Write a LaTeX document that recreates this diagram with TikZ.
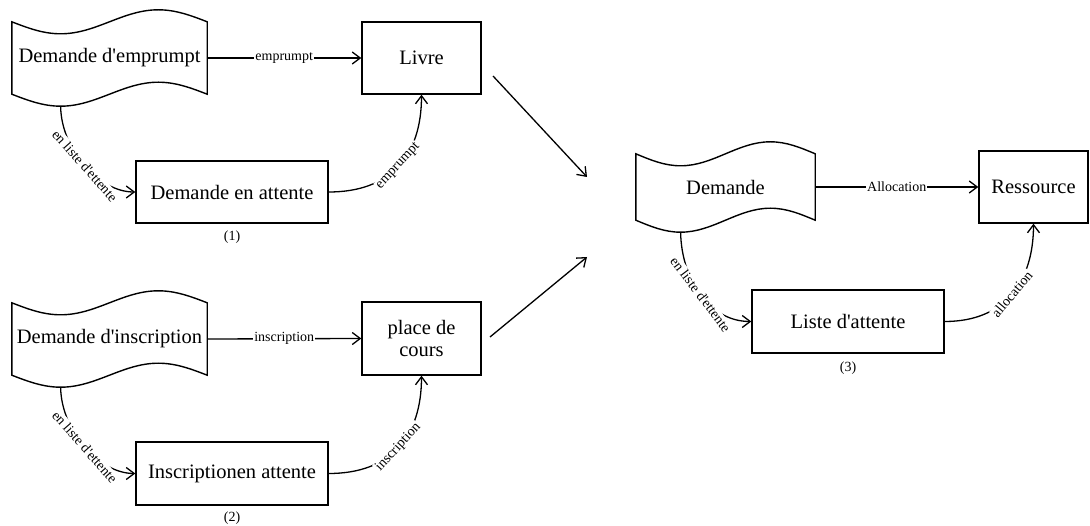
\documentclass[tikz,border=0pt]{standalone}
\usepackage{fontspec}
\setmainfont{Liberation Serif}[Ligatures=TeXOff]
\usetikzlibrary{arrows.meta,calc}
\newcommand\mainsz{\fontsize{20.5}{22}\selectfont}
\newcommand\lblsz{\fontsize{14}{16}\selectfont}
% tape (wave) outline drawn around a named node
\newcommand\tapeshape[2]{%
  \draw[tapeline] (#1.north west)
    sin ($(#1.north west)!0.25!(#1.north east)+(0,#2)$)
    cos ($(#1.north west)!0.5!(#1.north east)$)
    sin ($(#1.north west)!0.75!(#1.north east)+(0,-#2)$)
    cos (#1.north east)
    -- (#1.south east)
    sin ($(#1.south west)!0.75!(#1.south east)+(0,-#2)$)
    cos ($(#1.south west)!0.5!(#1.south east)$)
    sin ($(#1.south west)!0.25!(#1.south east)+(0,#2)$)
    cos (#1.south west) -- cycle;}
\begin{document}
\begin{tikzpicture}[x=1pt,y=-1pt,
  >={Straight Barb[length=8pt,width=12pt]},
  box/.style={draw, line width=1.4pt, inner sep=0pt, font=\mainsz, align=center},
  tape/.style={inner sep=0pt, font=\mainsz},
  tapeline/.style={line width=1.4pt},
  conn/.style={->, line width=1.3pt},
  lbl/.style={font=\lblsz, fill=white, inner sep=1pt},
  note/.style={font=\lblsz, inner sep=0pt}]
\useasboundingbox (0,0) rectangle (1090,526);
% group 1
\node[tape, minimum width=195pt, minimum height=72pt] (de1) at (109.5,58) {Demande d'emprumpt};
\tapeshape{de1}{12}
\node[box, minimum width=119pt, minimum height=72pt] (livre) at (421.5,58) {Livre};
\node[box, minimum width=192pt, minimum height=62pt] (att1) at (232,192) {Demande en attente};
\node[note] (n1) at (232,237) {(1)};
\coordinate (de1b) at ($(de1.south west)!0.25!(de1.south east)+(0,13)$);
\draw[conn] (de1.east) -- node[lbl]{emprumpt} (livre.west);
\draw[conn] (de1b) .. controls +(1,43) and +(-36,0) .. (att1.west)
  node[lbl, sloped, pos=0.5]{en liste d'ettente};
\draw[conn] (att1.east) .. controls +(62,0) and +(0,61) .. (livre.south)
  node[lbl, sloped, pos=0.5]{emprumpt};
% group 2
\node[tape, minimum width=195pt, minimum height=72pt] (de2) at (109.5,339) {Demande d'inscription};
\tapeshape{de2}{12}
\node[box, minimum width=119pt, minimum height=73pt] (place) at (421.5,338.5) {place de\\cours};
\node[box, minimum width=192pt, minimum height=63pt] (att2) at (232,473.5) {Inscriptionen attente};
\node[note] (n2) at (232,518) {(2)};
\coordinate (de2b) at ($(de2.south west)!0.25!(de2.south east)+(0,13)$);
\draw[conn] (de2.east) -- node[lbl]{inscription} (place.west);
\draw[conn] (de2b) .. controls +(1,43) and +(-36,0) .. (att2.west)
  node[lbl, sloped, pos=0.5]{en liste d'ettente};
\draw[conn] (att2.east) .. controls +(62,0) and +(0,61) .. (place.south)
  node[lbl, sloped, pos=0.5]{inscription};
% middle arrows
\coordinate (m1s) at (493,76);
\coordinate (m1e) at (587,177);
\coordinate (m2s) at (490,337);
\coordinate (m2e) at (587,257);
\draw[conn] (m1s) -- (m1e);
\draw[conn] (m2s) -- (m2e);
% group 3
\node[tape, minimum width=179pt, minimum height=66pt] (dem) at (725.5,187) {Demande};
\tapeshape{dem}{12}
\node[box, minimum width=109pt, minimum height=72pt] (res) at (1033.5,187) {Ressource};
\node[box, minimum width=192pt, minimum height=63pt] (liste) at (848,321.5) {Liste d'attente};
\node[note] (n3) at (848,368) {(3)};
\coordinate (demb) at ($(dem.south west)!0.25!(dem.south east)+(0,13)$);
\draw[conn] (dem.east) -- node[lbl]{Allocation} (res.west);
\draw[conn] (demb) .. controls +(1,46) and +(-42,0) .. (liste.west)
  node[lbl, sloped, pos=0.5]{en liste d'ettente};
\draw[conn] (liste.east) .. controls +(61,0) and +(0,57) .. (res.south)
  node[lbl, sloped, pos=0.5]{allocation};
\end{tikzpicture}
\end{document}
